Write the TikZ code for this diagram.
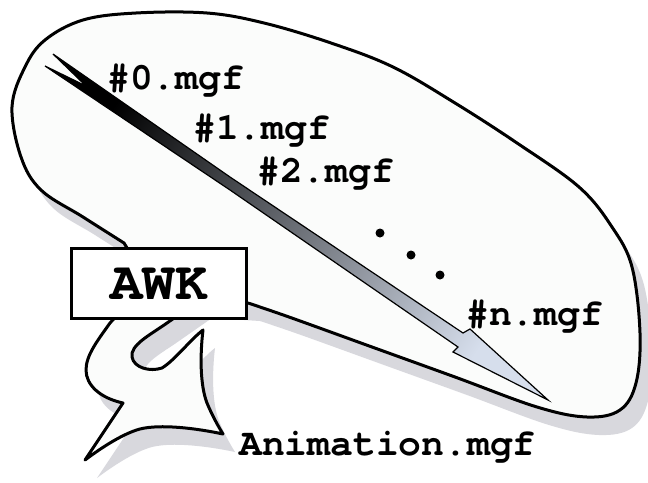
\documentclass[tikz,border=0pt]{standalone}
\usepackage{fontspec}
\newfontfamily\courbf{texgyrecursor-bold.otf}

\definecolor{shadowgray}{RGB}{216,216,221}
\definecolor{bubblefill}{RGB}{251,252,251}
\definecolor{arrowmid}{RGB}{95,99,108}
\definecolor{arrowend}{RGB}{214,222,236}

% outline of the speech bubble, tail included
\def\bubbleoutline{(150,285) -- plot[smooth,tension=0.6] coordinates {(124,243) (83,217) (41,190) (21,157) (12,107) (25,67) (45,40) (83,20) (136,13) (207,13) (264,23) (331,43) (393,67) (455,103) (517,143) (579,187) (612,227) (632,267) (640,333) (636,383) (620,410) (587,417) (537,407) (455,377) (372,347) (289,317) (248,303)}
  -- (200,300) -- (167,323)
  .. controls (150,335) and (130,345) .. (132,357)
  .. controls (134,368) and (150,372) .. (162,368)
  .. controls (175,360) and (190,340) .. (203,330)
  .. controls (200,355) and (200,385) .. (207,403)
  .. controls (212,415) and (218,426) .. (223,434)
  .. controls (195,428) and (160,424) .. (140,429)
  .. controls (125,433) and (105,445) .. (85,460)
  -- (123,403)
  .. controls (100,398) and (86,385) .. (86,370)
  .. controls (86,355) and (98,340) .. (110,323)
  -- (140,290) -- cycle}

\tikzset{
  bubble/.style={draw=black,line width=3pt,fill=bubblefill,line join=round},
  bubbleshadow/.style={fill=shadowgray},
  file/.style={font=\courbf\fontsize{38}{38}\selectfont,inner sep=0pt,anchor=base west},
  tool/.style={draw,line width=3pt,fill=white,inner sep=0pt,minimum width=175pt,minimum height=70pt,
    font=\courbf\fontsize{54}{54}\selectfont}
}

\begin{document}
\begin{tikzpicture}[x=1pt,y=-1pt]
  \fill[white] (0,0) rectangle (648,482);
  \useasboundingbox (0,0) rectangle (648,482);

  % bubble with its shadow
  \path[bubbleshadow,shift={(12,18)}] \bubbleoutline;
  \path[bubble] \bubbleoutline;

  % the frame sequence arrow
  \shadedraw[left color=black,middle color=arrowmid,right color=arrowend,shading angle=56,
    draw=black,line width=1.2pt,line join=miter]
    (53,54) -- (230,177) -- (463,333) -- (470,329) -- (548,400) -- (453,352) -- (458,347)
    -- (230,190) -- (45,66) -- (86,86) -- cycle;

  \node[tool] (awk) at (159,283.5) {AWK};

  \node[file] (f0) at (107,89) {\#0.mgf};
  \node[file] (f1) at (193,139) {\#1.mgf};
  \node[file] (f2) at (257,182) {\#2.mgf};
  \node[file] (fn) at (466,325) {\#n.mgf};
  \node[file] (anim) at (239,455) {Animation.mgf};

  \foreach \p in {(380,233),(411,255),(440,275)}
    \fill \p circle (4.5pt);
\end{tikzpicture}
\end{document}
